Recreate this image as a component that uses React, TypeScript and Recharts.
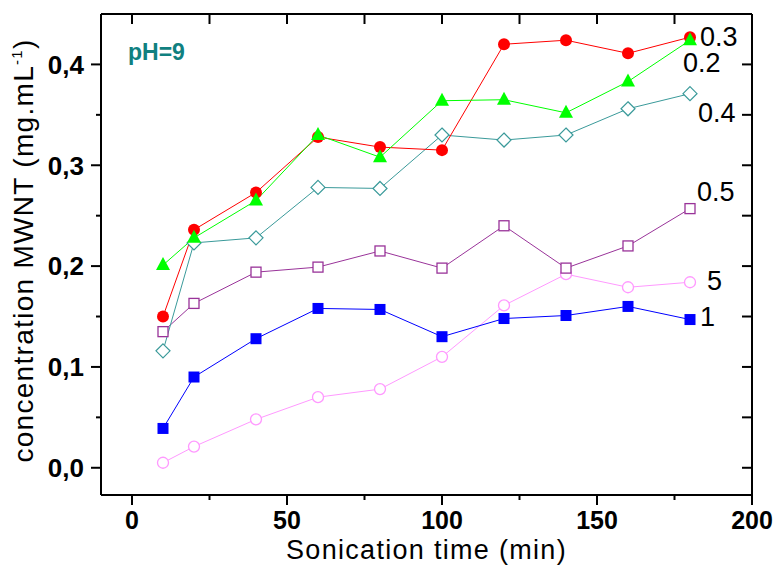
import { LineChart, Line, XAxis, YAxis, LabelList, Customized } from 'recharts';

// sonication time (min)
const times = [10, 20, 40, 60, 80, 100, 120, 140, 160, 180];

// MWNT concentration (mg/mL) for each ratio
const ratio03 = [0.150, 0.236, 0.273, 0.328, 0.318, 0.315, 0.420, 0.424, 0.411, 0.427];
const ratio02 = [0.201, 0.228, 0.265, 0.330, 0.308, 0.364, 0.365, 0.352, 0.383, 0.424];
const ratio04 = [0.116, 0.223, 0.228, 0.278, 0.277, 0.330, 0.325, 0.330, 0.356, 0.371];
const ratio05 = [0.135, 0.163, 0.194, 0.199, 0.215, 0.198, 0.240, 0.198, 0.220, 0.257];
const ratio1 = [0.039, 0.090, 0.128, 0.158, 0.157, 0.130, 0.148, 0.151, 0.160, 0.147];
const ratio5 = [0.005, 0.021, 0.048, 0.070, 0.078, 0.110, 0.161, 0.192, 0.179, 0.184];

const xMajor = [0, 50, 100, 150, 200];
const xMinor = [25, 75, 125, 175];
const yMajor = [0, 0.1, 0.2, 0.3, 0.4];
const yMinor = [0.05, 0.15, 0.25, 0.35];

const xTicks = [...xMajor, ...xMinor].sort((a, b) => a - b);
const yTicks = [...yMajor, ...yMinor].sort((a, b) => a - b);
const xDomain: [number, number] = [-10, 200];
const yDomain: [number, number] = [-0.027, 0.45];

const chartData = times.map((t, i) => ({
  time: t,
  r5: ratio5[i],
  r1: ratio1[i],
  r05: ratio05[i],
  r04: ratio04[i],
  r03: ratio03[i],
  r02: ratio02[i],
}));

const FONT = '"Liberation Sans", Arial, Helvetica, sans-serif';
const AXIS_LINE = { stroke: '#000', strokeWidth: 2 };

type Marker = 'circle' | 'triangle' | 'diamond' | 'square';

const series: {
  key: string;
  label: string;
  color: string;
  marker: Marker;
  filled: boolean;
  dx: number;
  dy: number;
}[] = [
  { key: 'r5', label: '5', color: '#FF99FF', marker: 'circle', filled: false, dx: 17, dy: -1 },
  { key: 'r1', label: '1', color: '#0000FF', marker: 'square', filled: true, dx: 10, dy: -3 },
  { key: 'r05', label: '0.5', color: '#993399', marker: 'square', filled: false, dx: 7, dy: -17 },
  { key: 'r04', label: '0.4', color: '#3A9A9A', marker: 'diamond', filled: false, dx: 8, dy: 19 },
  { key: 'r03', label: '0.3', color: '#FF0000', marker: 'circle', filled: true, dx: 10, dy: 0 },
  { key: 'r02', label: '0.2', color: '#00FF00', marker: 'triangle', filled: true, dx: -7, dy: 23 },
];

const makeDot = (marker: Marker, color: string, filled: boolean) => (p: any) => {
  const { cx, cy, index } = p;
  const fill = filled ? color : '#fff';
  const sw = filled ? 0 : 1.3;
  if (marker === 'circle') {
    return <circle key={index} cx={cx} cy={cy} r={filled ? 6 : 5.5} fill={fill} stroke={color} strokeWidth={sw} />;
  }
  if (marker === 'square') {
    const s = filled ? 11 : 10;
    return <rect key={index} x={cx - s / 2} y={cy - s / 2} width={s} height={s} fill={fill} stroke={color} strokeWidth={sw} />;
  }
  if (marker === 'diamond') {
    const h = 7;
    return (
      <polygon
        key={index}
        points={`${cx},${cy - h} ${cx + h},${cy} ${cx},${cy + h} ${cx - h},${cy}`}
        fill={fill}
        stroke={color}
        strokeWidth={1.2}
      />
    );
  }
  // triangle
  return (
    <polygon
      key={index}
      points={`${cx},${cy - 8} ${cx + 7},${cy + 5} ${cx - 7},${cy + 5}`}
      fill={fill}
      stroke={color}
      strokeWidth={sw}
    />
  );
};

const makeEndLabel = (text: string, dx: number, dy: number) => (p: any) => {
  const { x, y, index } = p;
  if (index !== times.length - 1) return null;
  return (
    <text
      key="end"
      x={x + dx}
      y={y + dy}
      dominantBaseline="central"
      textAnchor="start"
      fontFamily={FONT}
      fontSize={27}
      fill="#000"
    >
      {text}
    </text>
  );
};

const BottomTick = (p: any) => {
  const { x, y, payload } = p;
  const major = xMajor.includes(payload.value);
  return (
    <g>
      <line x1={x} y1={y} x2={x} y2={y + (major ? 10 : 5)} stroke="#000" strokeWidth={2} />
      {major && (
        <text x={x} y={y + 34} textAnchor="middle" fontFamily={FONT} fontWeight="bold" fontSize={25} fill="#000">
          {payload.value}
        </text>
      )}
    </g>
  );
};

const LeftTick = (p: any) => {
  const { x, y, payload } = p;
  const major = yMajor.includes(payload.value);
  return (
    <g>
      <line x1={x} y1={y} x2={x - (major ? 10 : 5)} y2={y} stroke="#000" strokeWidth={2} />
      {major && (
        <text
          x={x - 17}
          y={y}
          dy="0.36em"
          textAnchor="end"
          fontFamily={FONT}
          fontWeight="bold"
          fontSize={26}
          fill="#000"
        >
          {payload.value.toFixed(1).replace('.', ',')}
        </text>
      )}
    </g>
  );
};

const TopTick = (p: any) => {
  const { x, y } = p;
  return <line x1={x} y1={y} x2={x} y2={y + 10} stroke="#000" strokeWidth={2} />;
};

const RightTick = (p: any) => {
  const { x, y } = p;
  return <line x1={x} y1={y} x2={x - 10} y2={y} stroke="#000" strokeWidth={2} />;
};

const XTitle = (p: any) => {
  const vb = p.viewBox ?? { x: 101, y: 495, width: 651, height: 70 };
  return (
    <text
      x={vb.x + vb.width / 2}
      y={vb.y + 64}
      textAnchor="middle"
      fontFamily={FONT}
      fontSize={27}
      letterSpacing={1.3}
      fill="#000"
    >
      Sonication time (min)
    </text>
  );
};

const YTitle = (p: any) => {
  const vb = p.viewBox ?? { x: 0, y: 14, width: 101, height: 481 };
  const cx = vb.x + 33;
  const cy = vb.y + vb.height / 2 - 4;
  return (
    <text
      x={cx}
      y={cy}
      transform={`rotate(-90 ${cx} ${cy})`}
      textAnchor="middle"
      fontFamily={FONT}
      fontSize={28}
      letterSpacing={1.3}
      fill="#000"
    >
      concentration MWNT (mg.mL
      <tspan dy={-11} fontSize={15}>-1</tspan>
      <tspan dy={11}>)</tspan>
    </text>
  );
};

const PhNote = () => (
  <text x={128} y={60} fontFamily={FONT} fontWeight="bold" fontSize={23} fill="#108080">
    pH=9
  </text>
);

export default function App() {
  return (
    <div style={{ position: 'absolute', left: 0, top: 0, width: 777, height: 565, background: '#fff' }}>
      <LineChart width={777} height={565} data={chartData} margin={{ top: 13, right: 24, bottom: 0, left: 0 }}>
        <XAxis
          dataKey="time"
          type="number"
          domain={xDomain}
          allowDataOverflow
          ticks={xTicks}
          interval={0}
          height={70}
          tickSize={0}
          tickMargin={0}
          tickLine={false}
          tick={BottomTick}
          axisLine={AXIS_LINE}
          label={XTitle}
        />
        <XAxis
          xAxisId="top"
          orientation="top"
          dataKey="time"
          type="number"
          domain={xDomain}
          allowDataOverflow
          ticks={xTicks}
          interval={0}
          height={1}
          tickSize={0}
          tickMargin={0}
          tickLine={false}
          tick={TopTick}
          axisLine={AXIS_LINE}
        />
        <YAxis
          type="number"
          domain={yDomain}
          allowDataOverflow
          ticks={yTicks}
          interval={0}
          width={101}
          tickSize={0}
          tickMargin={0}
          tickLine={false}
          tick={LeftTick}
          axisLine={AXIS_LINE}
          label={YTitle}
        />
        <YAxis
          yAxisId="right"
          orientation="right"
          type="number"
          domain={yDomain}
          allowDataOverflow
          ticks={yTicks}
          interval={0}
          width={1}
          tickSize={0}
          tickMargin={0}
          tickLine={false}
          tick={RightTick}
          axisLine={AXIS_LINE}
        />
        {series.map((s) => (
          <Line
            key={s.key}
            type="linear"
            dataKey={s.key}
            stroke={s.color}
            strokeWidth={1}
            dot={makeDot(s.marker, s.color, s.filled)}
            activeDot={false}
            isAnimationActive={false}
          >
            <LabelList dataKey={s.key} content={makeEndLabel(s.label, s.dx, s.dy)} />
          </Line>
        ))}
        <Customized component={PhNote} />
      </LineChart>
    </div>
  );
}
